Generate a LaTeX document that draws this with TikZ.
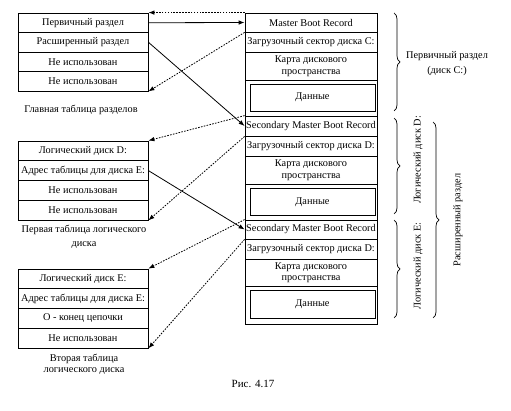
\documentclass[tikz,border=0pt]{standalone}
\usepackage{fontspec}
\setmainfont{Liberation Serif}
\usetikzlibrary{arrows.meta,decorations.pathreplacing}
\begin{document}
\begin{tikzpicture}[x=1pt,y=-1pt,
  txt/.style={font=\fontsize{10.3}{11.5}\selectfont, inner sep=0pt},
  cell/.style={txt, draw, line width=0.8pt, minimum width=130pt, minimum height=19.6pt},
  rcell/.style={txt, draw, line width=0.8pt, minimum width=132pt, align=center},
  inbox/.style={txt, draw, line width=0.8pt, minimum width=125pt},
  solidarrow/.style={line width=0.8pt, -{Latex[length=6pt,width=4.5pt]}},
  dotarrow/.style={line width=0.8pt, dash pattern=on 1.6pt off 1.3pt, -{Latex[length=6pt,width=4.5pt]}},
  bracestyle/.style={line width=0.7pt, decorate, decoration={brace, amplitude=6pt}},
  captext/.style={txt, align=center}
]
\useasboundingbox (0,0) rectangle (511,411);

% table 1
\node[cell, minimum height=19.5pt] (t1a) at (83,22.75) {Первичный раздел};
\node[cell, minimum height=19.5pt] (t1b) at (83,42.25) {Расширенный раздел};
\node[cell, minimum height=19.5pt] (t1c) at (83,61.75) {Не использован};
\node[cell, minimum height=19.5pt] (t1d) at (83,81.25) {Не использован};
\node[captext] (c1) at (81,110) {Главная таблица разделов};

% table 2
\node[cell, minimum height=19.75pt] (t2a) at (83,150.9) {Логический диск D:};
\node[cell, minimum height=19.75pt] (t2b) at (83,170.6) {Адрес таблицы для диска E:};
\node[cell, minimum height=19.75pt] (t2c) at (83,190.4) {Не использован};
\node[cell, minimum height=19.75pt] (t2d) at (83,210.1) {Не использован};
\node[captext, font=\fontsize{10.3}{14}\selectfont] (c2) at (84,237) {Первая таблица логического\\диска};

% table 3
\node[cell, minimum height=19.75pt] (t3a) at (83,278.9) {Логический диск E:};
\node[cell, minimum height=19.75pt] (t3b) at (83,298.6) {Адрес таблицы для диска E:};
\node[cell, minimum height=19.75pt] (t3c) at (83,318.4) {О - конец цепочки};
\node[cell, minimum height=19.75pt] (t3d) at (83,338.1) {Не использован};
\node[captext, font=\fontsize{10.3}{11}\selectfont] (c3) at (84,364.5) {Вторая таблица\\логического диска};

% right column, section 1
\node[rcell, minimum height=19pt] (mbr) at (311,22.5) {Master Boot Record};
\node[rcell, minimum height=20pt] (zc) at (311,42) {Загрузочный сектор диска C:};
\node[rcell, minimum height=28pt] (kc) at (311,66) {Карта дискового\\пространства};
\node[rcell, minimum height=36pt] (dc) at (311,98) {};
\node[inbox, minimum height=27pt] (ic) at (312.5,97.5) {Данные};

% section 2
\node[rcell, minimum height=20pt] (smbr1) at (311,126) {Secondary Master Boot Record};
\node[rcell, minimum height=20pt] (zd) at (311,146) {Загрузочный сектор диска D:};
\node[rcell, minimum height=28pt] (kd) at (311,170) {Карта дискового\\пространства};
\node[rcell, minimum height=36pt] (dd) at (311,202) {};
\node[inbox, minimum height=27pt] (id) at (312.5,202) {Данные};

% section 3
\node[rcell, minimum height=19pt] (smbr2) at (311,229.5) {Secondary Master Boot Record};
\node[rcell, minimum height=20pt] (ze) at (311,249) {Загрузочный сектор диска D:};
\node[rcell, minimum height=27pt] (ke) at (311,272.5) {Карта дискового\\пространства};
\node[rcell, minimum height=38pt] (de) at (311,305) {};
\node[inbox, minimum height=28pt] (ie) at (312.5,304) {Данные};

% connectors
\draw[solidarrow] (t1a.east) -- (mbr.west);
\draw[dotarrow] (mbr.north west) -- (t1a.north east);
\draw[dotarrow] (mbr.south west) -- (t1d.south east);
\draw[solidarrow] (t1b.east) -- (smbr1.west);
\draw[dotarrow] (smbr1.north west) -- (t2a.north east);
\draw[dotarrow] (smbr1.south west) -- (t2d.south east);
\draw[solidarrow] (t2b.east) -- (smbr2.west);
\draw[dotarrow] (smbr2.north west) -- (t3a.north east);
\draw[dotarrow] (smbr2.south west) -- (t3d.south east);

% braces
\coordinate (b1a) at (394,13);  \coordinate (b1b) at (394,111);
\coordinate (b2a) at (394,118); \coordinate (b2b) at (394,214);
\coordinate (b3a) at (394,220); \coordinate (b3b) at (394,318);
\coordinate (b4a) at (433,122); \coordinate (b4b) at (433,318);
\draw[bracestyle] (b1a) -- (b1b);
\draw[bracestyle] (b2a) -- (b2b);
\draw[bracestyle] (b3a) -- (b3b);
\draw[bracestyle] (b4a) -- (b4b);
\node[captext] (l1) at (447,63.5) {Первичный раздел\\[3pt](диск C:)};
\node[txt, rotate=90] (l2) at (418,160) {Логический диск D:};
\node[txt, rotate=90] (l3) at (418,266) {Логический диск E:};
\node[txt, rotate=90] (l4) at (458,220) {Расширенный раздел};

\node[txt, font=\fontsize{11}{13}\selectfont] (fig) at (253,384) {Рис. 4.17};
\end{tikzpicture}
\end{document}
